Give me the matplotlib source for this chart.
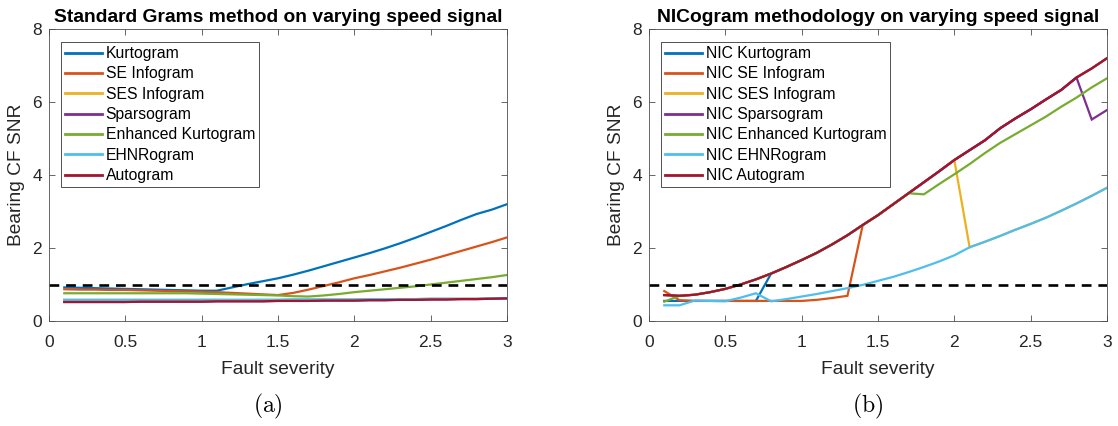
import numpy as np
import matplotlib
matplotlib.use("Agg")
import matplotlib.pyplot as plt

plt.rcParams['font.family'] = ['Liberation Sans', 'DejaVu Sans']
plt.rcParams['mathtext.fontset'] = 'cm'

# Fault severity levels
severity = [0.1, 0.2, 0.3, 0.4, 0.5, 0.6, 0.7, 0.8, 0.9, 1.0,
            1.1, 1.2, 1.3, 1.4, 1.5, 1.6, 1.7, 1.8, 1.9, 2.0,
            2.1, 2.2, 2.3, 2.4, 2.5, 2.6, 2.7, 2.8, 2.9, 3.0]

# (a) standard grams
std_kurtogram = [0.92, 0.91, 0.90, 0.89, 0.88, 0.87, 0.86, 0.85, 0.84, 0.83,
                 0.83, 0.92, 1.01, 1.09, 1.17, 1.27, 1.38, 1.50, 1.62, 1.74,
                 1.86, 1.99, 2.13, 2.28, 2.44, 2.60, 2.77, 2.93, 3.05, 3.20]
std_se_infogram = [0.87, 0.86, 0.86, 0.85, 0.85, 0.84, 0.83, 0.82, 0.81, 0.80,
                   0.79, 0.77, 0.75, 0.73, 0.71, 0.77, 0.86, 0.96, 1.06, 1.17,
                   1.26, 1.36, 1.46, 1.57, 1.68, 1.80, 1.92, 2.04, 2.16, 2.29]
std_ses_infogram = [0.58, 0.58, 0.58, 0.58, 0.58, 0.58, 0.58, 0.58, 0.58, 0.58,
                    0.58, 0.58, 0.58, 0.58, 0.58, 0.59, 0.59, 0.59, 0.59, 0.59,
                    0.60, 0.60, 0.60, 0.60, 0.61, 0.61, 0.61, 0.61, 0.62, 0.62]
std_sparsogram = [0.52, 0.52, 0.52, 0.52, 0.52, 0.53, 0.53, 0.53, 0.53, 0.53,
                  0.54, 0.54, 0.54, 0.54, 0.55, 0.55, 0.55, 0.56, 0.56, 0.56,
                  0.57, 0.57, 0.58, 0.58, 0.59, 0.59, 0.60, 0.60, 0.61, 0.62]
std_enh_kurtogram = [0.76, 0.76, 0.76, 0.76, 0.76, 0.76, 0.76, 0.76, 0.76, 0.75,
                     0.74, 0.73, 0.72, 0.71, 0.70, 0.68, 0.67, 0.70, 0.74, 0.79,
                     0.83, 0.87, 0.91, 0.95, 1.00, 1.05, 1.10, 1.15, 1.20, 1.26]
std_ehnrogram = [0.58, 0.58, 0.58, 0.58, 0.58, 0.58, 0.58, 0.58, 0.58, 0.58,
                 0.58, 0.58, 0.58, 0.58, 0.58, 0.59, 0.59, 0.59, 0.59, 0.59,
                 0.60, 0.60, 0.60, 0.60, 0.61, 0.61, 0.61, 0.61, 0.62, 0.62]
std_autogram = [0.52, 0.52, 0.52, 0.52, 0.52, 0.53, 0.53, 0.53, 0.53, 0.53,
                0.54, 0.54, 0.54, 0.54, 0.55, 0.55, 0.55, 0.56, 0.56, 0.56,
                0.57, 0.57, 0.58, 0.58, 0.59, 0.59, 0.60, 0.60, 0.61, 0.62]

# (b) NICogram methodology
nic_autogram = [0.71, 0.69, 0.72, 0.79, 0.88, 1.00, 1.14, 1.30, 1.48, 1.67,
                1.87, 2.10, 2.35, 2.63, 2.90, 3.20, 3.50, 3.80, 4.10, 4.41,
                4.68, 4.95, 5.28, 5.55, 5.80, 6.07, 6.33, 6.67, 6.92, 7.20]
nic_kurtogram = [0.55, 0.55, 0.55, 0.55, 0.55, 0.55, 0.55, 1.30, 1.48, 1.67,
                 1.87, 2.10, 2.35, 2.63, 2.90, 3.20, 3.50, 3.80, 4.10, 4.41,
                 4.68, 4.95, 5.28, 5.55, 5.80, 6.07, 6.33, 6.67, 6.92, 7.20]
nic_se_infogram = [0.82, 0.57, 0.55, 0.55, 0.55, 0.55, 0.55, 0.55, 0.55, 0.55,
                   0.58, 0.63, 0.69, 2.63, 2.90, 3.20, 3.50, 3.80, 4.10, 4.41,
                   4.68, 4.95, 5.28, 5.55, 5.80, 6.07, 6.33, 6.67, 6.92, 7.20]
nic_ehnrogram = [0.43, 0.43, 0.56, 0.55, 0.54, 0.64, 0.76, 0.54, 0.60, 0.67,
                 0.74, 0.82, 0.90, 0.99, 1.10, 1.21, 1.34, 1.48, 1.63, 1.80,
                 2.02, 2.17, 2.33, 2.50, 2.66, 2.83, 3.02, 3.22, 3.43, 3.65]
nic_ses_infogram = [0.71, 0.69, 0.72, 0.79, 0.88, 1.00, 1.14, 1.30, 1.48, 1.67,
                    1.87, 2.10, 2.35, 2.63, 2.90, 3.20, 3.50, 3.80, 4.10, 4.41,
                    2.02, 2.17, 2.33, 2.50, 2.66, 2.83, 3.02, 3.22, 3.43, 3.65]
nic_sparsogram = [0.71, 0.69, 0.72, 0.79, 0.88, 1.00, 1.14, 1.30, 1.48, 1.67,
                  1.87, 2.10, 2.35, 2.63, 2.90, 3.20, 3.50, 3.80, 4.10, 4.41,
                  4.68, 4.95, 5.28, 5.55, 5.80, 6.07, 6.33, 6.67, 5.52, 5.78]
nic_enh_kurtogram = [0.53, 0.69, 0.72, 0.79, 0.88, 1.00, 1.14, 1.30, 1.48, 1.67,
                     1.87, 2.10, 2.35, 2.63, 2.90, 3.20, 3.50, 3.47, 3.75, 4.02,
                     4.30, 4.60, 4.88, 5.12, 5.36, 5.60, 5.87, 6.12, 6.40, 6.65]

std_names = ["Kurtogram", "SE Infogram", "SES Infogram", "Sparsogram",
             "Enhanced Kurtogram", "EHNRogram", "Autogram"]
nic_names = ["NIC " + n for n in std_names]

colors = ["#0072BD", "#D95319", "#EDB120", "#7E2F8E",
          "#77AC30", "#4DBEEE", "#A2142F"]

std_series = [std_kurtogram, std_se_infogram, std_ses_infogram, std_sparsogram,
              std_enh_kurtogram, std_ehnrogram, std_autogram]
nic_series = [nic_kurtogram, nic_se_infogram, nic_ses_infogram, nic_sparsogram,
              nic_enh_kurtogram, nic_ehnrogram, nic_autogram]

threshold = 1.0

W, H = 1118, 426
fig = plt.figure(figsize=(W / 100, H / 100), dpi=100)

def px_axes(x0, x1, y_top, y_bot):
    return fig.add_axes([x0 / W, 1 - y_bot / H, (x1 - x0) / W, (y_bot - y_top) / H])

ax_a = px_axes(49, 507, 29, 321)
ax_b = px_axes(649, 1107, 29, 321)

panels = [
    (ax_a, std_series, std_names, "Standard Grams method on varying speed signal", r"$\mathrm{(a)}$"),
    (ax_b, nic_series, nic_names, "NICogram methodology on varying speed signal", r"$\mathrm{(b)}$"),
]

axis_col = "#4d4d4d"
for ax, series, names, title, caption in panels:
    for vals, name, c in zip(series, names, colors):
        ax.plot(severity, vals, color=c, lw=1.6, label=name, solid_joinstyle='miter')
    ax.plot([0, 3], [threshold, threshold], color="black", lw=1.9,
            dashes=(3.7, 2.6))
    ax.set_xlim(0, 3)
    ax.set_ylim(0, 8)
    ax.set_xticks([0, 0.5, 1, 1.5, 2, 2.5, 3])
    ax.set_xticklabels(["0", "0.5", "1", "1.5", "2", "2.5", "3"])
    ax.set_yticks([0, 2, 4, 6, 8])
    ax.tick_params(direction="in", length=4, width=0.6, color=axis_col,
                   labelsize=12.5, labelcolor="#262626", top=True, right=True, pad=5)
    ax.tick_params(axis="x", pad=10)
    for s in ax.spines.values():
        s.set_color(axis_col)
        s.set_linewidth(0.6)
    ax.set_xlabel("Fault severity", fontsize=13.8, color="#262626", labelpad=8)
    ax.set_ylabel("Bearing CF SNR", fontsize=13.8, color="#262626", labelpad=5)
    ax.set_title(title, fontsize=13.9, fontweight="bold", pad=5)
    leg = ax.legend(loc="upper left", bbox_to_anchor=(0.026, 0.955), borderaxespad=0,
                    fontsize=11.3, frameon=True, fancybox=False, framealpha=1,
                    edgecolor="#333333", handlelength=2.35, handletextpad=0.25,
                    labelspacing=0.34, borderpad=0.25)
    leg.get_frame().set_linewidth(0.6)
    for lh in leg.get_lines():
        lh.set_linewidth(2.0)
    pos = ax.get_position()
    fig.text(pos.x0 + pos.width / 2 - 10 / W, 1 - 406 / H, caption,
             fontsize=17, ha="center", va="center")

fig.savefig("out.png", dpi=100)
